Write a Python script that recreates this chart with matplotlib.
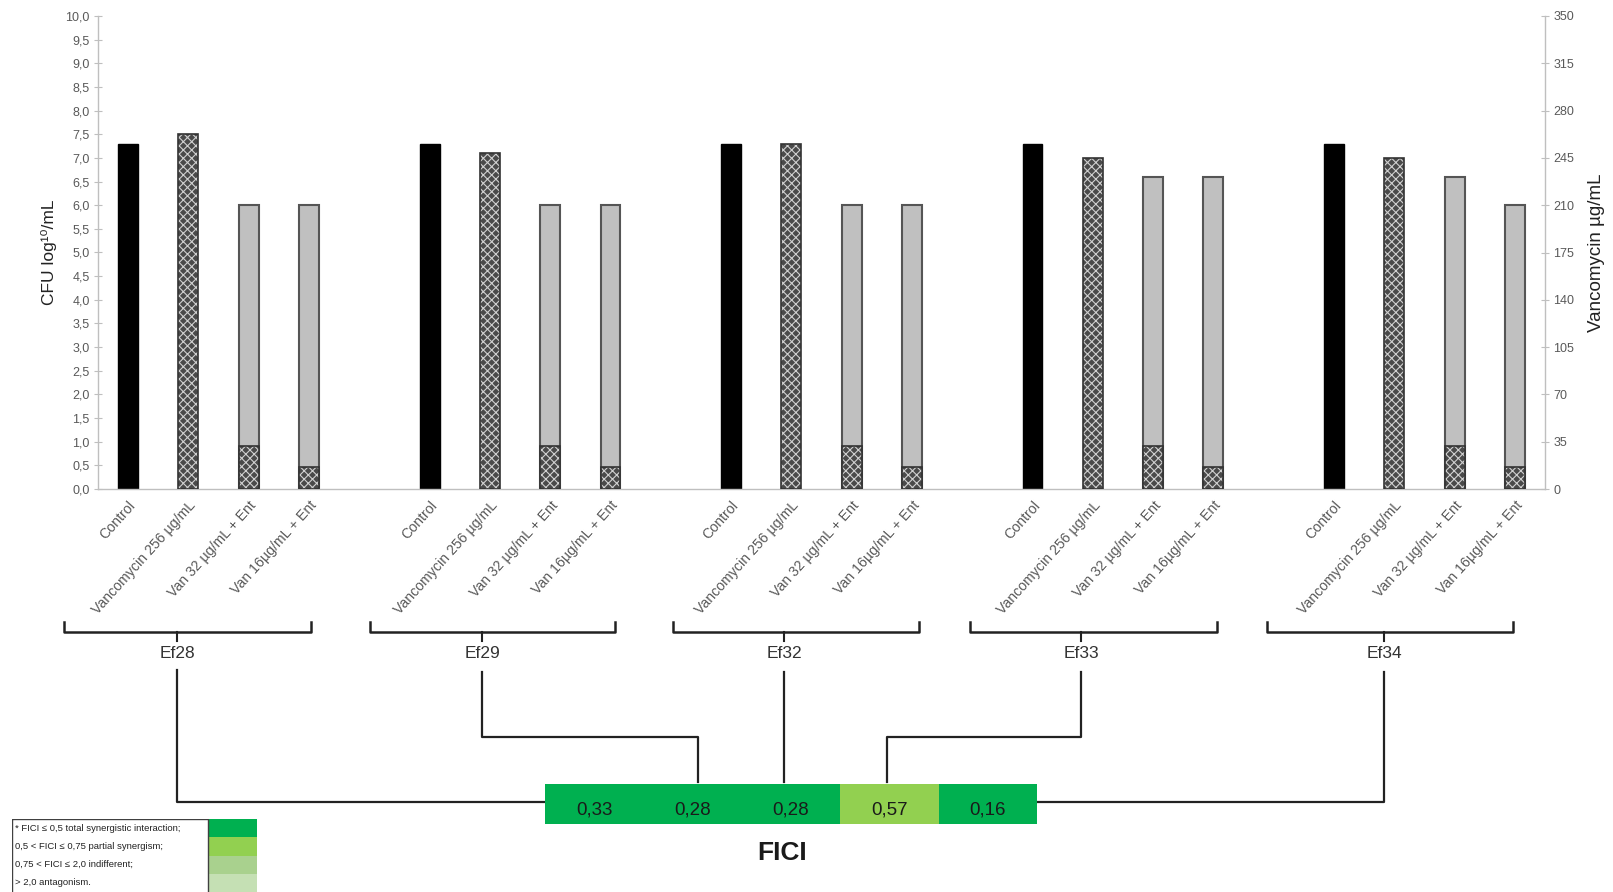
import matplotlib
matplotlib.use("Agg")
import matplotlib.pyplot as plt
import numpy as np

plt.rcParams['font.family'] = ['Liberation Sans', 'DejaVu Sans']
plt.rcParams['hatch.linewidth'] = 0.8

strains = ['Ef28', 'Ef29', 'Ef32', 'Ef33', 'Ef34']
treatments = ['Control', 'Vancomycin 256 µg/mL', 'Van 32 µg/mL + Ent', 'Van 16µg/mL + Ent']
# CFU log10/mL per strain: control, vanco 256, van32+ent, van16+ent
cfu = {
    'Ef28': [7.3, 7.5, 6.0, 6.0],
    'Ef29': [7.3, 7.1, 6.0, 6.0],
    'Ef32': [7.3, 7.3, 6.0, 6.0],
    'Ef33': [7.3, 7.0, 6.6, 6.6],
    'Ef34': [7.3, 7.0, 6.6, 6.0],
}
# vancomycin concentration in combinations (right axis)
van_conc = [32, 16]
fici = [0.33, 0.28, 0.28, 0.57, 0.16]

legend_rows = ['* FICI ≤ 0,5 total synergistic interaction;',
               '0,5 < FICI ≤ 0,75 partial synergism;',
               '0,75 < FICI ≤ 2,0 indifferent;',
               '> 2,0 antagonism.']
legend_cols = ['#00b050', '#92d050', '#a9d18e', '#c5e0b4']

W, H = 1613, 892
fig = plt.figure(figsize=(W / 100, H / 100), dpi=100)

def fbox(x0, y0, x1, y1):
    return [x0 / W, 1 - y1 / H, (x1 - x0) / W, (y1 - y0) / H]

ax = fig.add_axes(fbox(98, 16, 1545, 489))
ax2 = ax.twinx()

def checker(a, x, h):
    a.bar(x, h, bw, color='#4a4a4a', edgecolor='#d0d0d0', hatch='xxxx', lw=0, zorder=3)
    a.bar(x, h, bw, fill=False, edgecolor='#333333', lw=1.2, zorder=4)

bw = 0.33
pos, labels = [], []
for g, s in enumerate(strains):
    base = g * 5
    xs = [base + i for i in range(4)]
    vals = cfu[s]
    ax.bar(xs[0], vals[0], bw, color='black', edgecolor='black', zorder=2)
    checker(ax, xs[1], vals[1])
    ax.bar(xs[2:], vals[2:], bw, color='#c0c0c0', edgecolor='#555555', lw=1.5, zorder=2)
    checker(ax2, xs[2:], van_conc)
    pos += xs
    labels += treatments

for a in (ax, ax2):
    a.set_xlim(-0.5, 23.5)
    for sp in a.spines.values():
        sp.set_visible(False)
ax.set_ylim(0, 10)
ax2.set_ylim(0, 350)
ax.spines['left'].set_visible(True)
ax.spines['bottom'].set_visible(True)
ax2.spines['right'].set_visible(True)
for sp in (ax.spines['left'], ax.spines['bottom'], ax2.spines['right']):
    sp.set_color('#bfbfbf')
    sp.set_linewidth(1)

ax.set_yticks(np.arange(0, 10.01, 0.5))
ax.set_yticklabels([f'{v:.1f}'.replace('.', ',') for v in np.arange(0, 10.01, 0.5)])
ax2.set_yticks(np.arange(0, 351, 35))
ax.tick_params(axis='y', direction='inout', length=6, color='#bfbfbf', labelsize=9, labelcolor='#595959', pad=3)
ax2.tick_params(axis='y', direction='inout', length=6, color='#bfbfbf', labelsize=9, labelcolor='#595959', pad=3)
ax.set_xticks(pos)
ax.set_xticklabels(labels, rotation=48, ha='right', rotation_mode='anchor', fontsize=10.2, color='#595959')
ax.tick_params(axis='x', length=0, pad=7)
for t in ax.get_xticklabels():
    t.set_x(t.get_position()[0] - 0.08)

ax.set_ylabel('CFU log¹⁰/mL', fontsize=12.5, color='#222222', labelpad=6)
ax2.set_ylabel('Vancomycin µg/mL', fontsize=13.5, color='#222222', labelpad=10)

# overlay for brackets and connectors (pixel coordinates)
ov = fig.add_axes([0, 0, 1, 1], facecolor='none')
ov.set_xlim(0, W)
ov.set_ylim(H, 0)
ov.axis('off')

brackets = [(64, 311, 177), (370, 615, 482), (673, 919, 784), (970, 1217, 1081), (1267, 1513, 1384)]
by = 632
for (x0, x1, xc), s in zip(brackets, strains):
    ov.plot([x0, x0, x1, x1], [622, by, by, 622], color='#222222', lw=1.8)
    ov.plot([xc, xc], [by, 641], color='#222222', lw=1.5)
    ov.text(xc, 654, s, ha='center', va='center', fontsize=12.5, color='#333333')

lc = dict(color='#222222', lw=1.6)
ov.plot([177, 177, 545], [670, 802, 802], **lc)
ov.plot([482, 482, 698, 698], [672, 737, 737, 782], **lc)
ov.plot([784, 784], [672, 782], **lc)
ov.plot([1081, 1081, 887, 887], [672, 737, 737, 782], **lc)
ov.plot([1384, 1384, 1036], [672, 802, 802], **lc)

# FICI strip
fx = fig.add_axes(fbox(545, 784, 1037, 824))
cols = ['#00b050' if v <= 0.5 else '#92d050' for v in fici]
fx.bar(range(len(fici)), 1, width=1.0, color=cols, edgecolor='none')
for i, v in enumerate(fici):
    fx.text(i, 0.36, f'{v:.2f}'.replace('.', ','), ha='center', va='center', fontsize=13.5, color='#1a1a1a')
fx.set_xlim(-0.5, len(fici) - 0.5)
fx.set_ylim(0, 1)
fx.axis('off')
fig.text(782 / W, 1 - 853 / H, 'FICI', ha='center', va='center', fontsize=19, fontweight='bold', color='#1a1a1a')

# legend
lg = fig.add_axes(fbox(12, 819, 257, 892))
lg.set_xlim(0, 245)
lg.set_ylim(4, 0)
lg.axis('off')
rows = np.arange(len(legend_rows))
lg.barh(rows + 0.5, 49, left=196, height=1, color=legend_cols)
lg.add_patch(plt.Rectangle((0, 0), 196, 4.2, fill=False, ec='#404040', lw=1))
for r, t in zip(rows, legend_rows):
    lg.text(3, r + 0.5, t, va='center', ha='left', fontsize=6.8, color='#222222',
            family=['Liberation Sans Narrow', 'Liberation Sans', 'DejaVu Sans'])

fig.savefig('out.png', dpi=100)
